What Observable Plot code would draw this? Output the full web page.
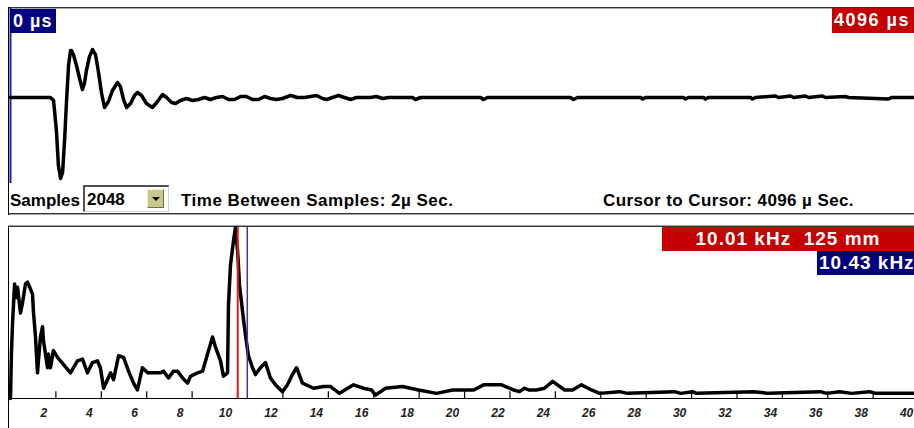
<!DOCTYPE html>
<html><head><meta charset="utf-8">
<script src="https://cdn.jsdelivr.net/npm/d3@7"></script>
<script src="https://cdn.jsdelivr.net/npm/@observablehq/plot@0.6"></script>
<style>
html,body{margin:0;padding:0;background:#fff;}
#root{position:relative;width:914px;height:428px;overflow:hidden;background:#fff;font-family:"Liberation Sans",Arial,sans-serif;font-weight:bold;}
.abs{position:absolute;}
.hline{position:absolute;left:8px;width:906px;height:1px;background:#333;}
.hline2{position:absolute;left:8px;width:906px;height:1px;background:#a8a8a8;}
.vline{position:absolute;left:8px;width:1px;background:#000;}
.tag{position:absolute;color:#fff;white-space:pre;overflow:hidden;}
.row{position:absolute;top:192px;font-size:17px;line-height:17px;color:#000;white-space:pre;}
svg{position:absolute;}
</style></head><body><div id="root"></div>
<script>
// ---- Waveform (top panel): time in µs, amplitude (relative units) ----
const waveTime = [0,181,195,208,217,227,236,245,254,263,272,276,285,299,313,326,335,344,358,372,385,399,412,426,444,462,485,498,512,526,544,562,575,594,616,643,666,689,707,730,748,770,797,825,852,879,906,933,961,988,1015,1042,1069,1096,1124,1151,1178,1205,1232,1269,1300,1332,1359,1387,1414,1432,1459,1486,1513,1541,1568,1631,1658,1686,1713,1821,1835,1858,2130,2143,2161,2537,2551,2569,2855,2864,2877,3049,3058,3072,3140,3149,3162,3353,3362,3376,3466,3480,3534,3548,3602,3616,3679,3693,3783,3797,3978,3992,4096];
const waveAmp  = [0,0,-3,-33,-68,-81,-75,-43,-3,32,47,47,43,32,19,8,14,27,41,48,43,25,5,-10,-4,7,15,11,-2,-10,-6,2,5,2,-6,-10,-4,3,0,-5,-6,-3,-1,-3,-2,0,-2,0,1,-2,-2,1,1,-2,-2,1,-1,-2,-1,2,0,0,1,2,-1,-2,0,2,0,-2,0,0,1,-1,0,0,-2,0,0,-2,0,0,-2,0,0,-1.5,0,0,-1.5,0,0,-1.5,0,0,-1.5,0,1.5,0,1.5,0,1.5,0,1.5,0,1,0,-1.5,0,0];
const timeCursors = [0, 4096];

// ---- Spectrum (bottom panel): frequency in kHz, amplitude (% of full scale) ----
const specFreq = [0,0.04,0.09,0.18,0.26,0.31,0.44,0.53,0.66,0.75,0.88,0.97,1.01,1.10,1.19,1.23,1.32,1.41,1.45,1.63,1.67,1.76,1.89,2.07,2.33,2.64,2.95,3.17,3.39,3.61,3.83,3.96,4.10,4.27,4.41,4.54,4.76,4.98,5.20,5.42,5.59,5.81,6.04,6.30,6.61,6.74,6.96,7.18,7.36,7.58,7.80,7.93,8.24,8.46,8.68,8.90,9.03,9.25,9.38,9.56,9.60,9.69,9.82,9.91,10.0,10.09,10.22,10.35,10.48,10.66,10.79,11.01,11.23,11.45,11.67,11.98,12.20,12.42,12.60,12.86,13.35,13.79,14.10,14.49,15.11,15.55,15.90,16.08,16.52,17.27,17.97,18.77,19.47,20.40,20.84,21.63,22.16,22.42,22.64,22.82,23.17,23.52,23.88,24.41,24.76,25.15,25.59,25.95,26.83,27.18,29.25,29.52,30.04,30.22,32.73,33.39,35.68,35.95,36.52,37.05,37.84,38.11,39.82];
const specAmp  = [0,26,44,67,59,65,50,56,67,68,64,61,51,36,15,22,36,42,34,18,26,18,28,24,20,15,22,23,15,21,22,18,6,11,15,11,25,24,16,9,5,18,15,15,15,16,12,16,16,12,9,13,15,16,26,36,30,22,13,15,54,78,92,100,87,66,51,37,25,18,14,18,21,12,8,4,8,14,18,9,6,7,7,3,8,6,5,2,6,7,5,3,5,5,8,8,5,4,6,5,5,6,10,5,5,8,5,3,4,3,4,3,4,3,4,3,4,3,4,3,4,3,3];
const freqTicks = [2,4,6,8,10,12,14,16,18,20,22,24,26,28,30,32,34,36,38,40];
const freqCursors = [10.01, 10.43];

// ---- Texts ----
const timeCursorLabels = ["0 µs", "4096 µs"];
const freqCursorLabels = ["10.01 kHz  125 mm", "10.43 kHz"];
const samplesLabel = "Samples";
const samplesValue = "2048";
const timeBetween = "Time Between Samples: 2µ Sec.";
const cursorToCursor = "Cursor to Cursor: 4096 µ Sec.";

const root = document.getElementById("root");
function el(cls, style, text) {
  const d = document.createElement("div");
  d.className = cls;
  Object.assign(d.style, style);
  if (text != null) d.textContent = text;
  root.appendChild(d);
  return d;
}

// Panel frames
el("hline", {top: "7px"}); el("hline2", {top: "8px"});
el("hline", {top: "213px"}); el("hline2", {top: "214px"});
el("vline", {top: "7px", height: "208px"});
el("hline2", {top: "225px"}); el("hline", {top: "226px"});
el("vline", {top: "226px", height: "202px"});

// Top plot
const wave = waveTime.map((t, i) => ({t, v: waveAmp[i]}));
const topPlot = Plot.plot({
  width: 914, height: 216,
  marginTop: 8, marginBottom: 33, marginLeft: 10, marginRight: 0,
  x: {domain: [0, 4096], axis: null},
  y: {domain: [-86, 89], axis: null},
  style: {background: "transparent", overflow: "visible"},
  marks: [
    Plot.ruleX([timeCursors[0]], {stroke: "#1c1ca8", strokeWidth: 2}),
    Plot.line(wave, {x: "t", y: "v", stroke: "#000", strokeWidth: 3.5, strokeLinejoin: "round"})
  ]
});
topPlot.style.left = "0px"; topPlot.style.top = "0px";
root.appendChild(topPlot);

// Bottom plot
const spec = specFreq.map((f, i) => ({f, a: specAmp[i]}));
const botPlot = Plot.plot({
  width: 914, height: 208,
  marginTop: 7, marginBottom: 30, marginLeft: 10, marginRight: 0,
  x: {domain: [0, 39.82], axis: null},
  y: {domain: [0, 100], axis: null},
  style: {background: "transparent", overflow: "visible"},
  marks: [
    Plot.ruleY([0], {stroke: "#000", strokeWidth: 1.2}),
    Plot.ruleX(freqTicks, {x: d => d, y1: 0, y2: 4, stroke: "#000", strokeWidth: 1.2}),
    Plot.text(freqTicks, {x: d => d, y: 0, dy: 15, dx: -12, text: d => String(d), fontSize: 12, fontStyle: "italic", fill: "#222", fontFamily: "Liberation Sans, Arial, sans-serif"}),
    Plot.line(spec, {x: "f", y: "a", stroke: "#000", strokeWidth: 3.5, strokeLinejoin: "round"}),
    Plot.ruleX([freqCursors[0]], {stroke: "#f01818", strokeWidth: 2}),
    Plot.ruleX([freqCursors[1]], {stroke: "#3838a8", strokeWidth: 1.5})
  ]
});
botPlot.style.left = "0px"; botPlot.style.top = "220px";
root.appendChild(botPlot);

// Cursor tags
el("tag", {left: "10px", top: "9px", width: "46px", height: "24px", lineHeight: "24px", background: "#000080", fontSize: "18px", letterSpacing: "1px", paddingLeft: "3px", boxSizing: "border-box"}, timeCursorLabels[0]);
el("tag", {left: "832px", top: "8px", width: "82px", height: "25px", lineHeight: "25px", background: "#c40000", fontSize: "18px", letterSpacing: "1.5px", paddingLeft: "2px", boxSizing: "border-box"}, timeCursorLabels[1]);
el("tag", {left: "662px", top: "227px", width: "252px", height: "24px", lineHeight: "24px", background: "#c40000", fontSize: "19px", letterSpacing: "1px", textAlign: "center"}, freqCursorLabels[0]);
el("tag", {left: "817px", top: "251px", width: "97px", height: "24px", lineHeight: "24px", background: "#000080", fontSize: "19px", letterSpacing: "1px", paddingLeft: "2px", boxSizing: "border-box"}, freqCursorLabels[1]);

// Controls row
el("row", {left: "10px"}, samplesLabel);
el("abs", {left: "83px", top: "185px", width: "86px", height: "27px", background: "#fff", borderTop: "2px solid #505050", borderLeft: "2px solid #505050", borderRight: "1px solid #d0d0d0", borderBottom: "1px solid #d0d0d0", boxSizing: "border-box"});
el("row", {left: "87px", top: "191px"}, samplesValue);
el("abs", {left: "147px", top: "189px", width: "17px", height: "19px", background: "#c8c88c", borderTop: "1px solid #f0f0d0", borderLeft: "1px solid #f0f0d0", borderRight: "1px solid #707050", borderBottom: "1px solid #707050", boxSizing: "border-box"});
el("abs", {left: "152px", top: "197px", width: "0", height: "0", borderLeft: "4px solid transparent", borderRight: "4px solid transparent", borderTop: "4px solid #000"});
el("row", {left: "181px", letterSpacing: "0.5px"}, timeBetween);
el("row", {left: "603px", letterSpacing: "0.4px"}, cursorToCursor);
</script>
</body></html>
